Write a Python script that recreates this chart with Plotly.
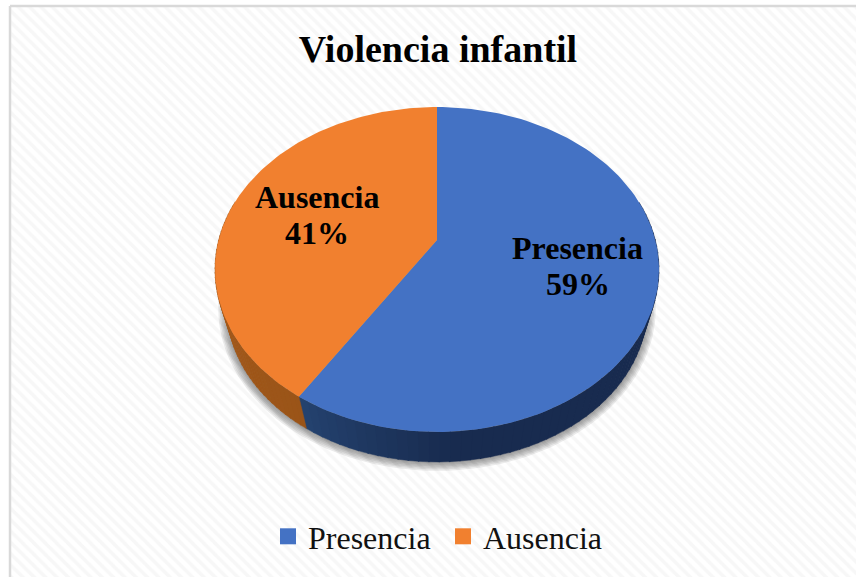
import math
import plotly.graph_objects as go

# ---- data ----
categories = ["Presencia", "Ausencia"]
values = [59, 41]
title_text = "Violencia infantil"

# ---- style ----
top_colors = ["#4472C4", "#F1802F"]
side_colors = [("#24426F", "#182B4F"), ("#9A5418", "#B0601F")]
label_radius = [0.65, 0.59]
label_shift = [3, 0]
W, H = 856, 577
FONT = "Liberation Serif"

# perspective view of the disc
APEX_X, APEX_Y = 437, 240
PX, PY, K = 218.3, 157.1, 0.1815
ELL_CY = 269.5
DEPTH_S, DEPTH_DY = 0.945, 38.9


def project(theta, r=1.0):
    u, v = r * math.sin(theta), -r * math.cos(theta)
    d = 1 - K * v
    return APEX_X + PX * u / d, APEX_Y + PY * v / d


def lower(x, y):
    return APEX_X + DEPTH_S * (x - APEX_X), ELL_CY + DEPTH_S * (y - ELL_CY) + DEPTH_DY


def mix(c1, c2, t):
    a = [int(c1[i:i + 2], 16) for i in (1, 3, 5)]
    b = [int(c2[i:i + 2], 16) for i in (1, 3, 5)]
    return "rgb(%d,%d,%d)" % tuple(round(p + (q - p) * t) for p, q in zip(a, b))


total = sum(values)
spans, start = [], 0.0
for v in values:
    end = start + 2 * math.pi * v / total
    spans.append((start, end))
    start = end

fig = go.Figure()

# hatched chart background
fig.add_trace(go.Scatter(
    x=[10, W + 5, W + 5, 10, 10], y=[6, 6, H + 5, H + 5, 6], mode="lines", fill="toself",
    line=dict(color="#D9D9D9", width=2.5), fillcolor="white",
    fillpattern=dict(shape="\\", fgcolor="#F0F0F0", bgcolor="white", size=8, solidity=0.45),
    hoverinfo="skip", showlegend=False))

# soft drop shadow under the disc
ring = [2 * math.pi * i / 180 for i in range(181)]
lower_cy = ELL_CY + DEPTH_DY
for grow in [9, 7.5, 6, 4.5, 3, 1.5]:
    pts = [lower(*project(t)) for t in ring]
    sx = [APEX_X + (p[0] - APEX_X) * (1 + grow / 210) for p in pts]
    sy = [lower_cy + (p[1] - lower_cy) * (1 + grow / 154) for p in pts]
    fig.add_trace(go.Scatter(x=sx, y=sy, mode="lines", fill="toself", line=dict(width=0),
                             fillcolor="rgba(60,60,60,0.10)", hoverinfo="skip", showlegend=False))

# side wall of the disc
for (a, b), (c1, c2) in zip(spans, side_colors):
    n = 90
    for i in range(n):
        t0 = a + (b - a) * i / n
        t1 = a + (b - a) * (i + 1) / n + 0.004
        mid = (t0 + t1) / 2
        if math.cos(mid) > 0.25:
            continue
        if a == 0:      # blue wall: lightest at the seam, dark towards the front
            frac = max(0.0, min(1.0, (math.radians(212) - mid) / math.radians(35)))
        else:
            frac = max(0.0, min(1.0, (mid - a) / (b - a) * 1.5))
        top = [project(t0), project(t1)]
        bot = [lower(*project(t1)), lower(*project(t0))]
        poly = top + bot + [top[0]]
        fig.add_trace(go.Scatter(x=[p[0] for p in poly], y=[p[1] for p in poly], mode="lines",
                                 fill="toself", line=dict(width=0.5, color=mix(c1, c2, frac)),
                                 fillcolor=mix(c1, c2, frac), hoverinfo="skip", showlegend=False))

# top surface slices
for (a, b), name, col in zip(spans, categories, top_colors):
    n = 120
    pts = [(APEX_X, APEX_Y)] + [project(a + (b - a) * i / n) for i in range(n + 1)] + [(APEX_X, APEX_Y)]
    fig.add_trace(go.Scatter(x=[p[0] for p in pts], y=[p[1] for p in pts], mode="lines", fill="toself",
                             line=dict(width=0), fillcolor=col, name=name, legendgroup=name,
                             showlegend=False, hovertemplate=name + "<extra></extra>"))

# legend entries
for name, col in zip(categories, top_colors):
    fig.add_trace(go.Scatter(x=[None], y=[None], mode="markers", name=name, legendgroup=name,
                             marker=dict(symbol="square", size=17, color=col)))

# data labels (two separate lines, for the tighter line spacing)
annotations = []
for (a, b), name, v, r, dy in zip(spans, categories, values, label_radius, label_shift):
    x, y = project((a + b) / 2, r)
    lines = [name, "%d%%" % round(100 * v / total)]
    for line, off in zip(lines, (18 + dy, -18 + dy)):
        annotations.append(dict(x=x, y=y, xref="x", yref="y", showarrow=False, yshift=off,
                                text="<b>%s</b>" % line,
                                font=dict(family=FONT, size=32, color="black"), align="center"))

fig.update_layout(
    width=W, height=H, margin=dict(l=0, r=0, t=0, b=0),
    paper_bgcolor="white", plot_bgcolor="white",
    xaxis=dict(range=[0, W], visible=False, fixedrange=True),
    yaxis=dict(range=[H, 0], visible=False, fixedrange=True),
    title=dict(text="<b>%s</b>" % title_text, x=438 / W, xanchor="center", y=1 - 49 / H, yanchor="middle",
               font=dict(family=FONT, size=38, color="black")),
    annotations=annotations,
    shapes=[dict(type="rect", xref="x", yref="y", x0=253, x1=621, y0=513, y1=563,
                 fillcolor="rgba(255,255,255,0.75)", line=dict(width=0), layer="below")],
    legend=dict(orientation="h", x=268 / W, y=1 - 509 / H, xanchor="left", yanchor="top",
                bgcolor="rgba(0,0,0,0)", font=dict(family=FONT, size=32, color="#111111"),
                entrywidth=130, entrywidthmode="pixels", itemclick=False, itemdoubleclick=False),
)

fig.write_html("out.html", config={"displayModeBar": False},
               post_script="document.body.style.margin='0';")
